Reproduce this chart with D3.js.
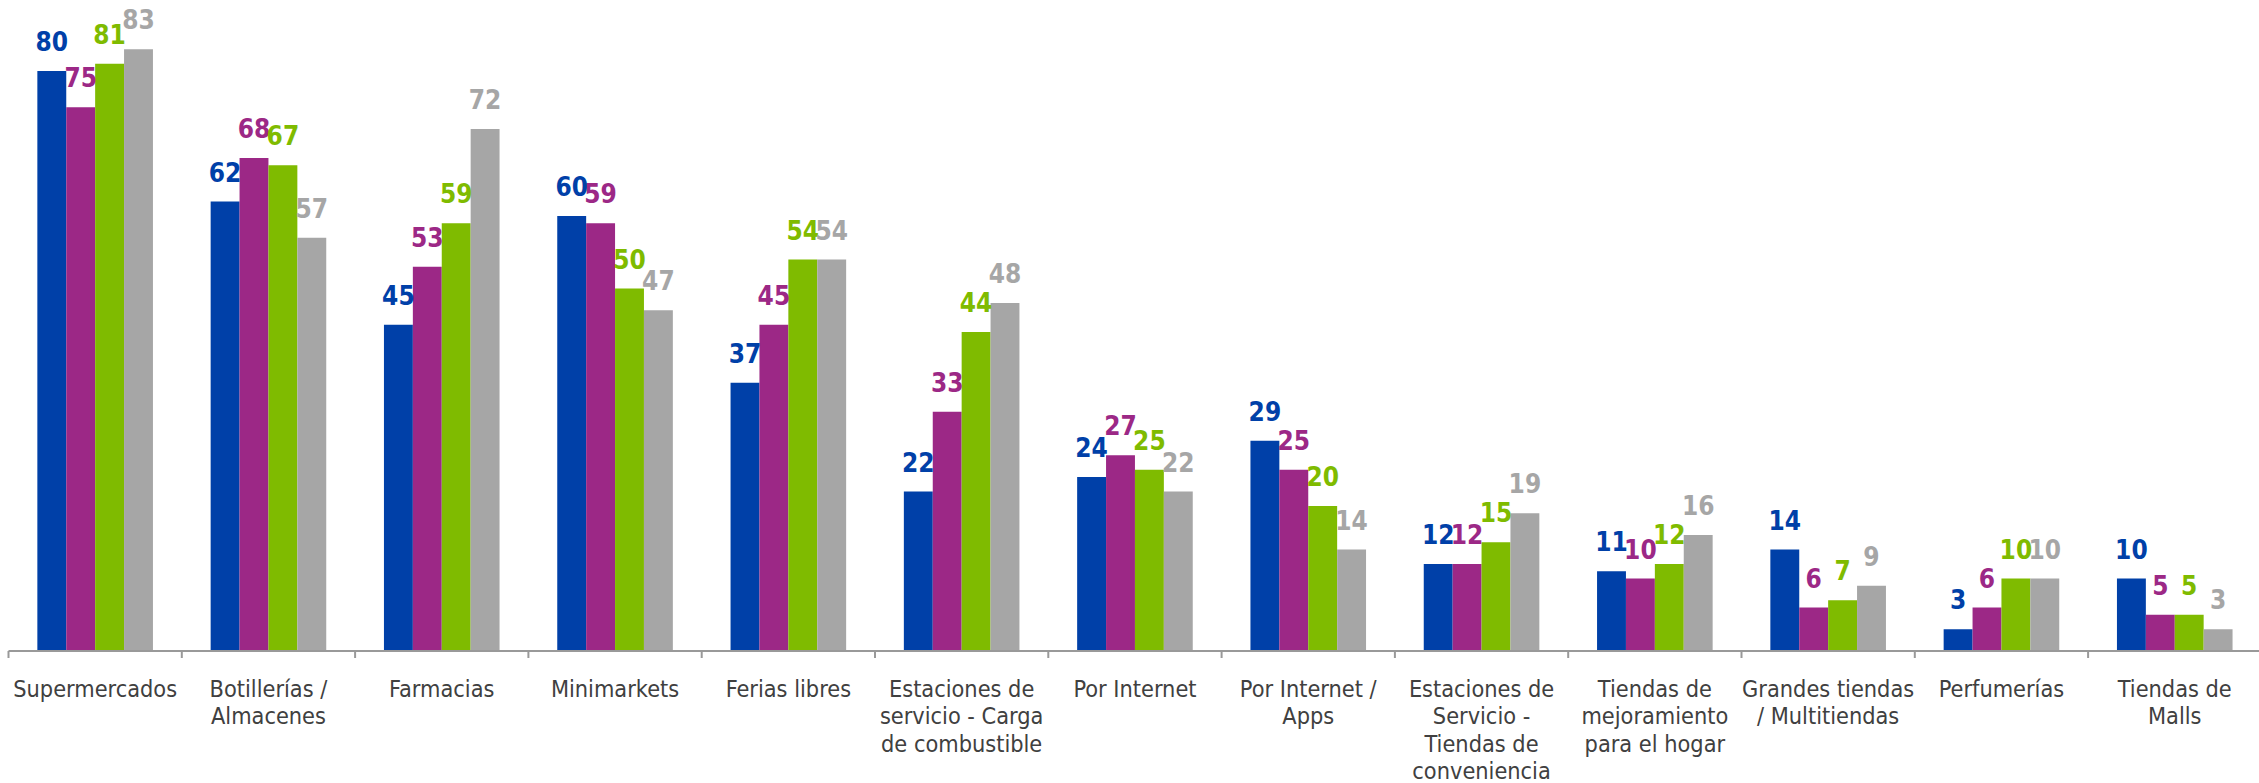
<!DOCTYPE html>
<html>
<head>
<meta charset="utf-8">
<script src="https://cdn.jsdelivr.net/npm/d3@7"></script>
<style>
  html, body { margin: 0; padding: 0; background: #ffffff; }
  svg { display: block; }
</style>
</head>
<body>
<svg id="chart" width="2259" height="783"></svg>
<script>
// Retail channels and the four survey waves shown for each
const categories = [
  "Supermercados", "Botillerías / Almacenes", "Farmacias", "Minimarkets",
  "Ferias libres", "Estaciones de servicio - Carga de combustible", "Por Internet",
  "Por Internet / Apps", "Estaciones de Servicio - Tiendas de conveniencia",
  "Tiendas de mejoramiento para el hogar", "Grandes tiendas / Multitiendas",
  "Perfumerías", "Tiendas de Malls"
];

// Wrapped tick labels, one entry per category
const tickLines = [
  ["Supermercados"],
  ["Botillerías /", "Almacenes"],
  ["Farmacias"],
  ["Minimarkets"],
  ["Ferias libres"],
  ["Estaciones de", "servicio - Carga", "de combustible"],
  ["Por Internet"],
  ["Por Internet /", "Apps"],
  ["Estaciones de", "Servicio -", "Tiendas de", "conveniencia"],
  ["Tiendas de", "mejoramiento", "para el hogar"],
  ["Grandes tiendas", "/ Multitiendas"],
  ["Perfumerías"],
  ["Tiendas de", "Malls"]
];

const seriesNames = ["s1", "s2", "s3", "s4"];
const seriesColors = ["#0040a8", "#9c2886", "#7fbb00", "#a6a6a6"];

const values_s1 = [80, 62, 45, 60, 37, 22, 24, 29, 12, 11, 14, 3, 10];
const values_s2 = [75, 68, 53, 59, 45, 33, 27, 25, 12, 10, 6, 6, 5];
const values_s3 = [81, 67, 59, 50, 54, 44, 25, 20, 15, 12, 7, 10, 5];
const values_s4 = [83, 57, 72, 47, 54, 48, 22, 14, 19, 16, 9, 10, 3];
const seriesValues = [values_s1, values_s2, values_s3, values_s4];

const svg = d3.select("#chart");
const baseY = 651;
const left = 8.5, step = 173.3;
const groupWidth = 115.6;

const x = d3.scaleBand()
  .domain(categories)
  .range([left, left + step * categories.length])
  .paddingInner(0).paddingOuter(0);

const x1 = d3.scaleBand()
  .domain(seriesNames)
  .range([(x.bandwidth() - groupWidth) / 2, (x.bandwidth() + groupWidth) / 2]);

const y = d3.scaleLinear().domain([0, 90]).range([baseY, baseY - 90 * 7.25]);

const rows = [];
categories.forEach((c, i) => {
  seriesNames.forEach((s, j) => {
    rows.push({ cat: c, series: s, value: seriesValues[j][i], color: seriesColors[j] });
  });
});

// Bars
svg.append("g").selectAll("rect")
  .data(rows)
  .join("rect")
  .attr("x", d => x(d.cat) + x1(d.series))
  .attr("y", d => y(d.value))
  .attr("width", x1.bandwidth())
  .attr("height", d => y(0) - y(d.value))
  .attr("fill", d => d.color);

// Value labels above bars
svg.append("g").selectAll("text")
  .data(rows)
  .join("text")
  .attr("x", d => x(d.cat) + x1(d.series) + x1.bandwidth() / 2)
  .attr("y", d => y(d.value) - 20)
  .attr("text-anchor", "middle")
  .attr("font-family", "'DejaVu Sans Condensed', 'DejaVu Sans', sans-serif")
  .attr("font-weight", "bold")
  .attr("font-size", 26)
  .attr("fill", d => d.color)
  .text(d => d.value);

// Category axis: labels centred under each group
const labelMap = new Map(categories.map((c, i) => [c, tickLines[i]]));
const axis = svg.append("g")
  .attr("transform", `translate(0,${baseY})`)
  .call(d3.axisBottom(x).tickSize(0).tickPadding(0).tickFormat(() => ""));

axis.select(".domain").remove();

axis.selectAll(".tick text").each(function (c) {
  const t = d3.select(this)
    .attr("y", 46)
    .attr("dy", null)
    .attr("fill", "#404040")
    .attr("font-family", "'DejaVu Sans Condensed', 'DejaVu Sans', sans-serif")
    .attr("font-size", 23.3);
  labelMap.get(c).forEach((line, k) => {
    t.append("tspan").attr("x", 0).attr("y", 46 + k * 27.3).text(line);
  });
});

// Baseline and boundary ticks between groups
const boundaries = d3.range(categories.length + 1).map(i => left + i * step);
axis.append("line")
  .attr("x1", left).attr("x2", 2259)
  .attr("y1", 0).attr("y2", 0)
  .attr("stroke", "#999999").attr("stroke-width", 2);
axis.append("g").selectAll("line")
  .data(boundaries)
  .join("line")
  .attr("x1", d => d).attr("x2", d => d)
  .attr("y1", 0).attr("y2", 7)
  .attr("stroke", "#999999").attr("stroke-width", 2);
</script>
</body>
</html>
